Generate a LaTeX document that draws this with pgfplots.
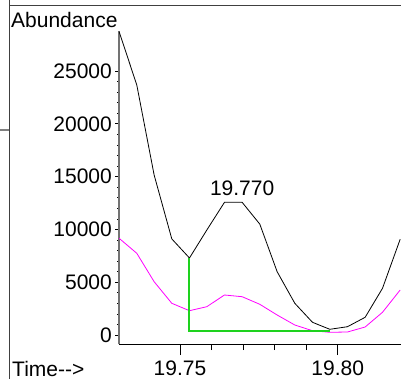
\documentclass[border=0pt]{standalone}
\usepackage{fontspec}
\setmainfont{Liberation Sans}
\usepackage{pgfplots}
\usepackage{pgfplotstable}
\pgfplotsset{compat=1.18}
\definecolor{ionmag}{RGB}{255,0,255}
\definecolor{basegreen}{RGB}{30,210,30}
\pgfplotstableread{
t       tic    ion
19.7307 28722  9157
19.7363 23674  7737
19.7418 15152  5047
19.7474 9100   3002
19.7530 7292   2301
19.7585 9940   2680
19.7641 12566  3788
19.7697 12566  3627
19.7753 10500  2907
19.7808 5994   1894
19.7864 3002   947
19.7920 1203   407
19.7975 540    256
19.8031 786    284
19.8087 1676   758
19.8142 4422   2150
19.8198 9063   4261
}\chrom
\newcommand\lbl{\fontsize{21bp}{25bp}\selectfont}
\begin{document}
\begin{tikzpicture}
\useasboundingbox (0,0) rectangle (401bp,379bp);
\fill[white] (0,0) rectangle (401bp,379bp);
\draw[line width=1.5bp, black!75] (9.5bp,0) -- (9.5bp,379bp);
\draw[line width=1.5bp, black!75] (9.5bp,373.5bp) -- (401bp,373.5bp);
\draw[line width=1.2bp, black!50] (0,249bp) -- (9bp,249bp);
\begin{axis}[at={(119bp,35bp)}, anchor=south west, scale only axis,
  width=282bp, height=313bp,
  xmin=19.73066, xmax=19.82007, ymin=-852, ymax=28788,
  axis x line=none, axis y line*=left,
  ytick={0,5000,10000,15000,20000,25000}, minor y tick num=4,
  xtick=\empty,
  tick align=outside, major tick length=4bp, minor tick length=2bp,
  y axis line style={draw=black!55, line width=1.6bp},
  tick style={black, line width=0.6bp},
  /pgf/number format/assume math mode=true,
  /pgf/number format/1000 sep={},
  scaled y ticks=false,
  yticklabel style={font=\lbl, inner sep=0pt, xshift=-3bp},
  clip=false]
\addplot[draw=black, line width=0.8bp] table[x=t, y=tic] {\chrom};
\addplot[draw=ionmag, line width=0.8bp] table[x=t, y=ion] {\chrom};
\addplot[draw=basegreen, line width=2bp, mark=none] coordinates {(19.7530,7292) (19.7530,340) (19.7975,340)};
\node[font=\lbl, inner sep=0pt] at (axis cs:19.7697,13920) {19.770};
\end{axis}
\begin{axis}[at={(119bp,35bp)}, anchor=south west, scale only axis,
  width=282bp, height=313bp,
  xmin=19.73066, xmax=19.82007, ymin=-852, ymax=28788,
  axis y line=none, axis x line*=bottom,
  xtick={19.75,19.80}, xticklabels={19.75,19.80}, minor x tick num=4,
  ytick=\empty,
  tick align=outside, major tick length=11bp, minor tick length=6bp,
  x axis line style={draw=black, line width=0.8bp},
  tick style={black, line width=0.8bp},
  xticklabel style={font=\lbl, inner sep=0pt, yshift=-6bp}]
\end{axis}
\node[font=\lbl, inner sep=0pt, anchor=base west] at (11bp,351bp) {Abundance};
\node[font=\lbl, inner sep=0pt, anchor=base west] at (12bp,3bp) {Time-{}-{}>};
\end{tikzpicture}
\end{document}
